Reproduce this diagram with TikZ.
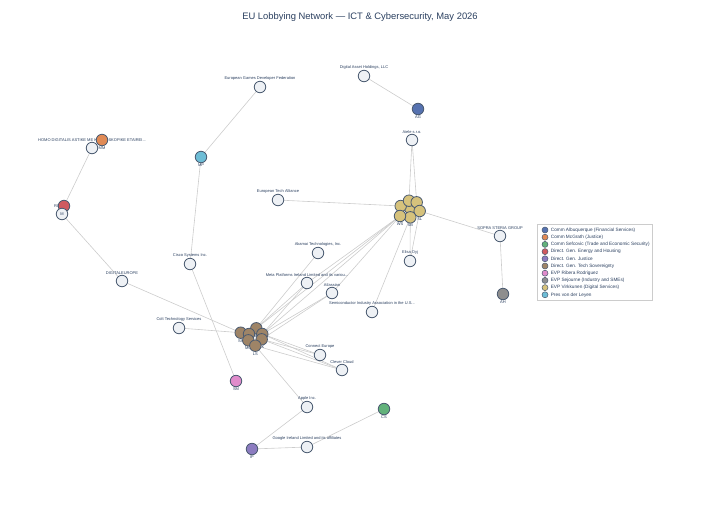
\documentclass[tikz,border=0pt]{standalone}
\usepackage{fontspec}
\setmainfont{Liberation Sans}
\usetikzlibrary{positioning,backgrounds}

\definecolor{txt}{HTML}{2A3F5F}
\definecolor{rim}{HTML}{4A5A70}
\definecolor{orgfill}{HTML}{EEF1F5}
\definecolor{linkgray}{HTML}{CCCCCC}
\definecolor{cAG}{HTML}{5672B0}
\definecolor{cMM}{HTML}{E08A55}
\definecolor{cCS}{HTML}{62B27B}
\definecolor{cRG}{HTML}{CF5A60}
\definecolor{cIP}{HTML}{8C7CC0}
\definecolor{cTS}{HTML}{9E8467}
\definecolor{cSM}{HTML}{E08CCB}
\definecolor{cAH}{HTML}{8E8E8E}
\definecolor{cHV}{HTML}{D6C27C}
\definecolor{cMP}{HTML}{6DBDD6}

\tikzset{
  org/.style={circle, draw=rim, fill=orgfill, line width=0.8pt, minimum size=11.5pt, inner sep=0pt},
  off/.style={org, fill=#1},
  lbl/.style={font=\fontsize{4}{4}\selectfont, text=txt, inner sep=0.4pt},
  link/.style={draw=linkgray, line width=0.6pt},
}

\begin{document}
\begin{tikzpicture}[x=1pt,y=-1pt]
\useasboundingbox (0,0) rectangle (720,504);

\node[font=\fontsize{9.4}{11}\selectfont, text=txt] (title) at (360,17) {EU Lobbying Network — ICT \& Cybersecurity, May 2026};

% organisations
\node[org, label={[lbl]above:Digital Asset Holdings, LLC}] (dah) at (364,76) {};
\node[org, label={[lbl]above:European Games Developer Federation}] (egdf) at (260,87) {};
\node[org, label={[lbl]above:HOMO DIGITALIS ASTIKE ME KERDOSKOPIKE ETAIREI...}] (homo) at (92,148) {};
\node[org, label={[lbl]above:Aiele s.r.o.}] (aiele) at (412,140) {};
\node[org, label={[lbl]above:European Tech Alliance}] (eta) at (278,200) {};
\node[org, label={[lbl]above:SOPRA STERIA GROUP}] (sopra) at (500,236) {};
\node[org, label={[lbl]above:Akamai Technologies, Inc.}] (akamai) at (318,253) {};
\node[org, label={[lbl]above:Elisa Oyj}] (elisa) at (410,261) {};
\node[org, label={[lbl]above:Cisco Systems Inc.}] (cisco) at (190,264) {};
\node[org, label={[lbl]above:DIGITALEUROPE}] (digeu) at (122,281) {};
\node[org, label={[lbl]above:Meta Platforms Ireland Limited and its variou...}] (meta) at (307,283) {};
\node[org, label={[lbl]above:Atlassian}] (atlas) at (332,293) {};
\node[org, label={[lbl]above:Semiconductor Industry Association in the U.S...}] (sia) at (372,312) {};
\node[org, label={[lbl]above:Colt Technology Services}] (colt) at (179,328) {};
\node[org, label={[lbl]above:Connect Europe}] (conn) at (320,355) {};
\node[org, label={[lbl]above:Clever Cloud}] (clever) at (342,370) {};
\node[org, label={[lbl]above:Apple Inc.}] (apple) at (307,407) {};
\node[org, label={[lbl]above:Google Ireland Limited and its affiliates}] (google) at (307,447) {};

% officials
\node[off=cAG, label={[lbl]below:AG}] (ag) at (418,109) {};
\node[off=cMP, label={[lbl]below:MP}] (mp) at (201,157) {};
\node[off=cMM, label={[lbl]below:MM}] (mm) at (102,140) {};
\node[lbl] (rglbl) at (57,206) {RG};
\node[off=cRG] (rg) at (64,206) {};
\node[org] (m) at (62,214) {};
\node[lbl] at (m) {M};
\node[off=cAH, label={[lbl]below:AH}] (ah) at (503,294) {};
\node[off=cSM, label={[lbl]below:SM}] (sm) at (236,381) {};
\node[off=cCS, label={[lbl]below:CS}] (cs) at (384,409) {};
\node[off=cIP, label={[lbl]below:IP}] (ip) at (252,449) {};

% Virkkunen cabinet
\node[off=cHV] (g7) at (410,208) {};
\node[off=cHV] (g1) at (400.7,206) {};
\node[off=cHV] (g2) at (409,200.7) {};
\node[off=cHV] (g3) at (416.7,202.3) {};
\node[off=cHV, label={[lbl]below:SL}] (g4) at (419.7,211) {};
\node[off=cHV, label={[lbl]below:SB}] (g5) at (410.3,217.3) {};
\node[off=cHV, label={[lbl]below:WS}] (g6) at (400,216) {};

% Tech Sovereignty
\node[off=cTS, label={[lbl]below:SS}] (b1) at (240.7,332.7) {};
\node[off=cTS, label={[lbl]below:A}] (b3) at (256.3,328.3) {};
\node[off=cTS] (b2) at (249,334) {};
\node[off=cTS] (b4) at (262.3,334) {};
\node[off=cTS, label={[lbl]below:TK}] (b5) at (261.7,339.3) {};
\node[off=cTS, label={[lbl]below:MO}] (b7) at (248.3,340.3) {};
\node[off=cTS, label={[lbl]below:LS}] (b6) at (255.3,345.7) {};

\begin{scope}[on background layer]
\draw[link] (dah) -- (ag);
\draw[link] (egdf) -- (mp);
\draw[link] (mp) -- (cisco);
\draw[link] (cisco) -- (sm);
\draw[link] (homo) -- (rg);
\draw[link] (m) -- (digeu);
\draw[link] (sopra) -- (ah);
\draw[link] (apple) -- (ip);
\draw[link] (google) -- (ip);
\draw[link] (google) -- (cs);
\draw[link] (g2) -- (aiele);
\draw[link] (g3) -- (aiele);
\draw[link] (g1) -- (eta);
\draw[link] (g4) -- (sopra);
\draw[link] (g5) -- (elisa);
\draw[link] (g4) -- (elisa);
\draw[link] (g5) -- (sia);
\draw[link] (g6) -- (meta);
\draw[link] (g6) -- (atlas);
\draw[link] (g6) -- (b3);
\draw[link] (g6) -- (b4);
\draw[link] (b3) -- (akamai);
\draw[link] (b3) -- (meta);
\draw[link] (b4) -- (meta);
\draw[link] (b4) -- (atlas);
\draw[link] (b5) -- (atlas);
\draw[link] (b1) -- (colt);
\draw[link] (b1) -- (digeu);
\draw[link] (b4) -- (conn);
\draw[link] (b5) -- (conn);
\draw[link] (b4) -- (clever);
\draw[link] (b5) -- (clever);
\draw[link] (b6) -- (clever);
\draw[link] (b6) -- (apple);
\end{scope}

% legend
\node[draw=linkgray, line width=0.5pt, minimum width=115pt, minimum height=76pt, anchor=north west] (legend) at (537,224) {};
\foreach \c/\t [count=\i] in {cAG/Comm Albuquerque (Financial Services),
  cMM/Comm McGrath (Justice),
  cCS/Comm Sefcovic (Trade and Economic Security),
  cRG/Direct. Gen. Energy and Housing,
  cIP/Direct. Gen. Justice,
  cTS/Direct. Gen. Tech Sovereignty,
  cSM/EVP Ribera Rodriguez,
  cAH/EVP Sejourne (Industry and SMEs),
  cHV/EVP Virkkunen (Digital Services),
  cMP/Pres von der Leyen}
{
  \node[circle, draw=rim, fill=\c, line width=0.5pt, minimum size=6pt, inner sep=0pt] (key\i) at (545,222.8+7.2*\i) {};
  \node[lbl, font=\fontsize{4.7}{5}\selectfont, anchor=west, right=2pt of key\i] {\t};
}
\end{tikzpicture}
\end{document}
